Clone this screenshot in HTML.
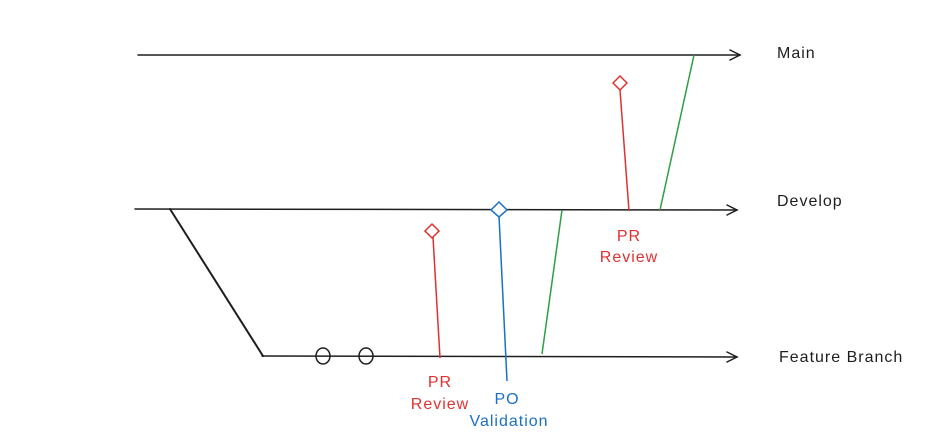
<!DOCTYPE html>
<html><head><meta charset="utf-8"><style>
html,body{margin:0;padding:0;background:#fff;width:930px;height:443px;overflow:hidden}
text{font-family:"Comic Sans MS","Liberation Sans",sans-serif;font-size:16px;letter-spacing:1px}
</style></head><body>
<svg width="930" height="443" viewBox="0 0 930 443">
<g stroke="#1e1e1e" stroke-width="1.5" fill="none" stroke-linecap="round">
 <g><line x1="138" y1="55" x2="740" y2="55"/><polyline points="730,50 740,55 730,60"/></g>
 <g><line x1="135" y1="209" x2="737" y2="210"/><polyline points="727,205 737,210 727,215"/></g>
 <g><line x1="262" y1="356" x2="737" y2="357"/><polyline points="727,352 737,357 727,362"/></g>
 <polyline points="170,209 263,356" stroke-width="2"/>
 <ellipse cx="323" cy="356" rx="7" ry="8"/>
 <ellipse cx="366" cy="356" rx="7" ry="8"/>
</g>
<g stroke="#2f9e44" stroke-width="1.5">
 <line x1="542" y1="354" x2="562" y2="210"/>
 <line x1="660" y1="210" x2="694" y2="55"/>
</g>
<g stroke="#e03131" stroke-width="1.5" fill="#fff">
 <line x1="433" y1="237" x2="440" y2="358"/>
 <polygon points="432,224 439,231 432,238 425,231"/>
 <line x1="620" y1="90" x2="629" y2="211"/>
 <polygon points="620,76 627,83 620,90 613,83"/>
</g>
<g stroke="#1971c2" stroke-width="1.5" fill="#fff">
 <line x1="499" y1="216" x2="507" y2="381"/>
 <polygon points="499,202 507,210 499,217 491,210"/>
</g>
<g fill="#1e1e1e">
 <text x="777" y="58">Main</text>
 <text x="777" y="206">Develop</text>
 <text x="779" y="362">Feature Branch</text>
</g>
<g fill="#e03131" text-anchor="middle">
 <text x="629" y="241">PR</text>
 <text x="629" y="262">Review</text>
 <text x="440" y="387">PR</text>
 <text x="440" y="409">Review</text>
</g>
<g fill="#1971c2" text-anchor="middle">
 <text x="507" y="404">PO</text>
 <text x="509" y="426">Validation</text>
</g>
</svg>
</body></html>
